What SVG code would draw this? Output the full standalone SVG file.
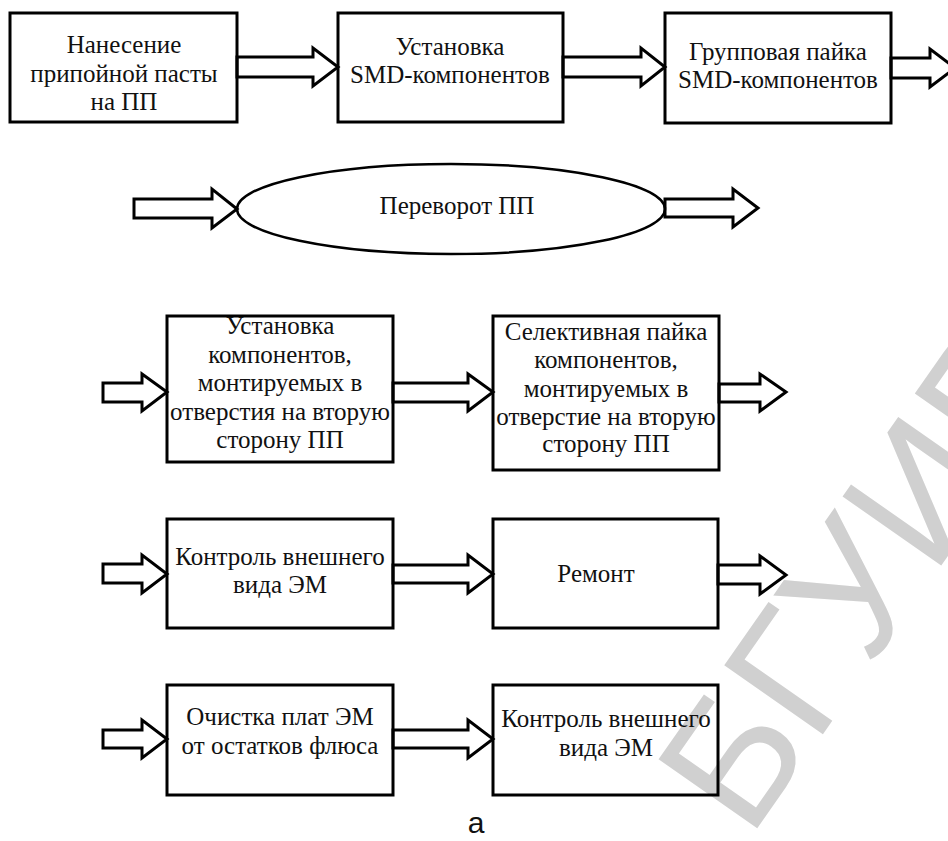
<svg xmlns="http://www.w3.org/2000/svg" width="948" height="841" viewBox="0 0 948 841">
<style>
.box{fill:none;stroke:#000;stroke-width:3}
.arr{fill:#fff;stroke:#000;stroke-width:3;stroke-linejoin:miter}
.t{font-family:"Liberation Serif","Times New Roman",serif;font-size:25px;fill:#111;text-anchor:middle}
.wm{font-family:"Liberation Sans",Arial,sans-serif;font-size:175px;fill:#d0d0d0}
</style>
<rect width="948" height="841" fill="#fff"/>
<g id="watermark"><text class="wm" transform="translate(749,840) rotate(-55)">БГУИР</text></g>
<g id="connectors">
<polygon class="arr" points="237,57 313,57 313,48 338,67 313,86 313,77 237,77"/>
<polygon class="arr" points="563,57 641,57 641,48 665,67 641,86 641,77 563,77"/>
<polygon class="arr" points="891,58 930,58 930,49 955,68 930,87 930,78 891,78"/>
<polygon class="arr" points="134,199 212,199 212,189 237,209 212,228 212,218 134,218"/>
<polygon class="arr" points="665,199 733,199 733,189 758,208 733,227 733,217 665,217"/>
<polygon class="arr" points="103,383 142,383 142,374 167,392 142,411 142,402 103,402"/>
<polygon class="arr" points="393,383 468,383 468,374 493,392 468,411 468,402 393,402"/>
<polygon class="arr" points="719,384 760,384 760,374 786,392 760,411 760,402 719,402"/>
<polygon class="arr" points="103,564 142,564 142,555 167,574 142,593 142,583 103,583"/>
<polygon class="arr" points="393,565 468,565 468,555 493,574 468,593 468,583 393,583"/>
<polygon class="arr" points="718,565 760,565 760,556 786,575 760,594 760,584 718,584"/>
<polygon class="arr" points="103,730 142,730 142,720 167,739 142,758 142,748 103,748"/>
<polygon class="arr" points="393,730 468,730 468,720 493,739 468,758 468,748 393,748"/>
</g>
<g id="n1"><rect class="box" x="10" y="13" width="227" height="109"/>
<text class="t" x="124" y="53">Нанесение</text><text class="t" x="124" y="82">припойной пасты</text><text class="t" x="124" y="110">на ПП</text></g>
<g id="n2"><rect class="box" x="338" y="13" width="225" height="109"/>
<text class="t" x="450" y="55">Установка</text><text class="t" x="450" y="83">SMD-компонентов</text></g>
<g id="n3"><rect class="box" x="665" y="13" width="226" height="110"/>
<text class="t" x="778" y="60">Групповая пайка</text><text class="t" x="778" y="88">SMD-компонентов</text></g>
<g id="n4"><ellipse cx="451" cy="209" rx="214" ry="45" fill="none" stroke="#000" stroke-width="2.5"/>
<text class="t" x="457" y="214">Переворот ПП</text></g>
<g id="n5"><rect class="box" x="167" y="316" width="226" height="146"/>
<text class="t" x="280" y="334">Установка</text><text class="t" x="280" y="362.5">компонентов,</text><text class="t" x="280" y="391">монтируемых в</text><text class="t" x="280" y="419.5">отверстия на вторую</text><text class="t" x="280" y="448">сторону ПП</text></g>
<g id="n6"><rect class="box" x="493" y="316" width="226" height="154"/>
<text class="t" x="606" y="340">Селективная пайка</text><text class="t" x="606" y="368">компонентов,</text><text class="t" x="606" y="397">монтируемых в</text><text class="t" x="606" y="425">отверстие на вторую</text><text class="t" x="606" y="452">сторону ПП</text></g>
<g id="n7"><rect class="box" x="167" y="519" width="226" height="109"/>
<text class="t" x="280" y="565">Контроль внешнего</text><text class="t" x="280" y="593">вида ЭМ</text></g>
<g id="n8"><rect class="box" x="493" y="519" width="225" height="109"/>
<text class="t" x="596" y="582">Ремонт</text></g>
<g id="n9"><rect class="box" x="167" y="685" width="226" height="110"/>
<text class="t" x="280" y="725">Очистка плат ЭМ</text><text class="t" x="280" y="754">от остатков флюса</text></g>
<g id="n10"><rect class="box" x="493" y="685" width="225" height="110"/>
<text class="t" x="606" y="727">Контроль внешнего</text><text class="t" x="606" y="756">вида ЭМ</text></g>
<text x="476" y="833" font-family="Liberation Sans,Arial,sans-serif" font-size="30" fill="#111" text-anchor="middle">а</text>
</svg>
